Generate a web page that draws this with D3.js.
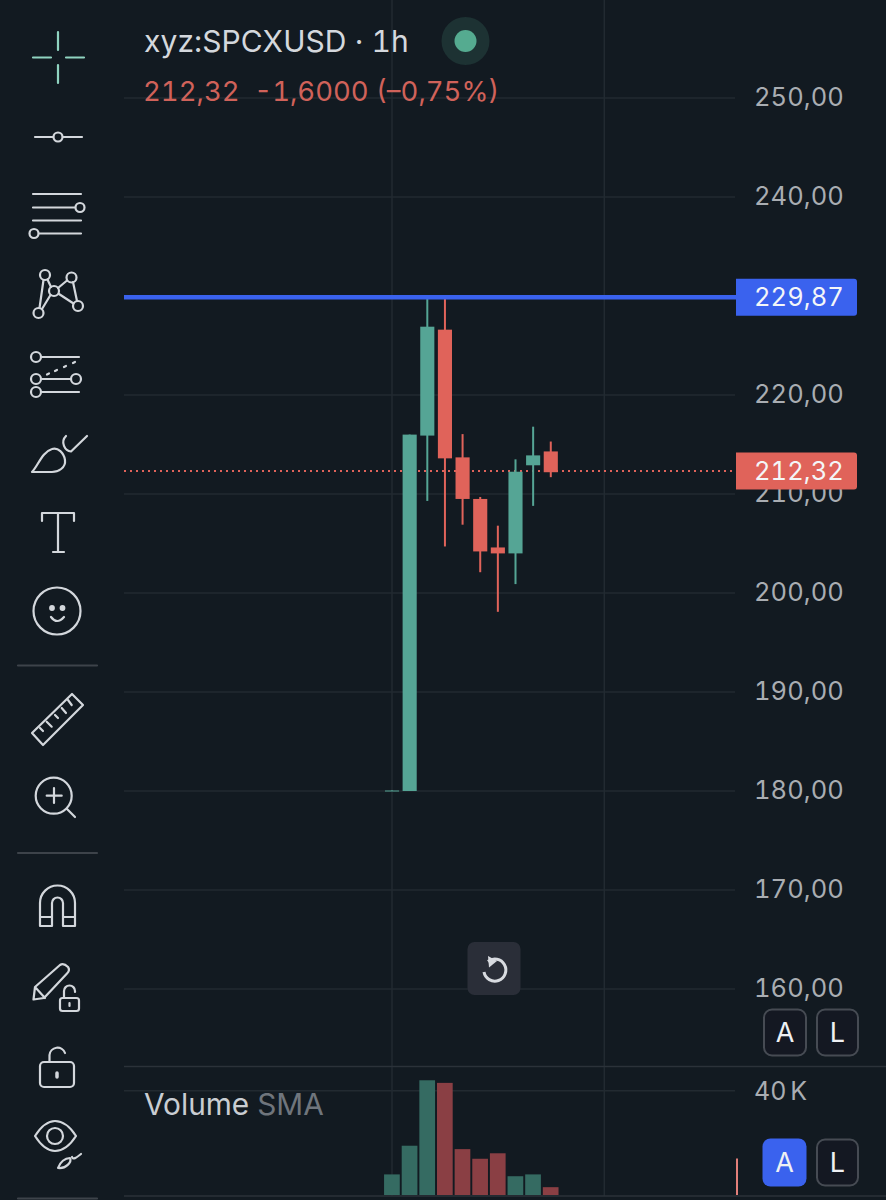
<!DOCTYPE html>
<html><head><meta charset="utf-8">
<script src="https://cdn.jsdelivr.net/npm/d3@7/dist/d3.min.js"></script>
<style>html,body{margin:0;padding:0;background:#121a21;overflow:hidden}svg{display:block}text{font-family:Inter,"Noto Sans",sans-serif;font-variant-numeric:tabular-nums;font-feature-settings:"tnum"}</style>
</head><body><svg id="c" width="886" height="1200"></svg>
<script>
// ---- data ----
const opens  = [180.0,180.0,215.9,226.6,213.7,209.5,204.6,204.0,212.9,214.3];
const closes = [180.05,216.0,226.9,213.6,209.5,204.2,204.0,212.25,213.9,212.2];
const highs  = [180.05,216.0,229.87,229.87,216.05,209.7,206.8,213.5,216.8,215.3];
const lows   = [180.0,180.0,209.3,204.7,206.9,202.1,198.1,200.9,208.8,211.7];
const volumes= [7900,18900,44000,43000,17600,13900,16000,7200,7900,3000];
const priceTicks=[160,170,180,190,200,210,220,230,240,250];
const priceLabels=[160,170,180,190,200,210,220,240,250];
const volumeTicks=[40000];
const lastPrice=212.32, alertPrice=229.87, lastVolumeMark=14000;
const titleText="xyz:SPCXUSD · 1h";
const quoteText="212,32  -1,6000 (–0,75%)";

const BG="#121a21",GRID="#222a31",UP="#55a595",DOWN="#e0635a",UPV="#356b62",DOWNV="#8a3f44",BLUE="#3a62ee",
      ICON="#d3d7dc",TXT="#a9adb2",DIV="#3d434a";
const comma=v=>d3.format(".2f")(v).replace(".",",");
const svg=d3.select("#c");
const y=d3.scaleLinear().domain([160,250]).range([989,98]);
const yv=d3.scaleLinear().domain([0,40000]).range([1195,1090.7]);
const x=d3.scaleBand().domain(d3.range(opens.length)).range([383.2,559.6]).paddingInner(0.2).paddingOuter(0.1);
const cx=i=>x(i)+x.bandwidth()/2;

// grid
const g=svg.append("g");
g.selectAll(".h").data(priceTicks).join("line").attr("x1",124).attr("x2",735).attr("y1",d=>y(d)).attr("y2",d=>y(d)).attr("stroke",GRID).attr("stroke-width",1.5);
g.selectAll(".hv").data(volumeTicks).join("line").attr("x1",124).attr("x2",735).attr("y1",d=>yv(d)).attr("y2",d=>yv(d)).attr("stroke",GRID).attr("stroke-width",1.5);
g.selectAll(".v").data([392,604.3]).join("line").attr("x1",d=>d).attr("x2",d=>d).attr("y1",0).attr("y2",1196).attr("stroke",GRID).attr("stroke-width",1.5);
g.append("line").attr("x1",124).attr("x2",886).attr("y1",1066.5).attr("y2",1066.5).attr("stroke","#2b3239").attr("stroke-width",1.5);
g.append("line").attr("x1",124).attr("x2",886).attr("y1",1196).attr("y2",1196).attr("stroke","#2b3239").attr("stroke-width",1.5);

// axis labels
const ax=d3.axisRight(y).tickValues(priceLabels).tickFormat(comma).tickSize(0).tickPadding(0);
const ag=svg.append("g").attr("transform","translate(844,0)").call(ax);
ag.select(".domain").remove();
ag.selectAll("text").attr("text-anchor","end").attr("fill",TXT).attr("font-size",25.5).attr("dy","0.29em").style("letter-spacing","0.1px");
const av=d3.axisRight(yv).tickValues(volumeTicks).tickFormat(d=>d/1000+" K").tickSize(0).tickPadding(0);
const avg=svg.append("g").attr("transform","translate(807,0)").call(av);
avg.select(".domain").remove();
avg.selectAll("text").attr("text-anchor","end").attr("fill",TXT).attr("font-size",25).attr("dy","0.34em").style("word-spacing","-3px");

// volume
svg.append("g").selectAll("rect").data(volumes).join("rect")
 .attr("x",(d,i)=>x(i)-0.9).attr("width",x.bandwidth()+1.6).attr("y",d=>yv(d)).attr("height",d=>yv(0)-yv(d))
 .attr("fill",(d,i)=>closes[i]>=opens[i]?UPV:DOWNV);
svg.append("rect").attr("x",736).attr("width",2).attr("y",yv(lastVolumeMark)).attr("height",yv(0)-yv(lastVolumeMark)).attr("fill","#e27f7a");

// last price dotted line
svg.append("line").attr("x1",124).attr("x2",736).attr("y1",y(lastPrice)).attr("y2",y(lastPrice)).attr("stroke","#e0635a").attr("stroke-width",2).attr("stroke-dasharray","2 4");

// candles
const cg=svg.append("g").selectAll("g").data(opens).join("g").attr("fill",(d,i)=>closes[i]>=opens[i]?UP:DOWN);
cg.append("rect").attr("x",(d,i)=>cx(i)-1).attr("width",2).attr("y",(d,i)=>y(highs[i])).attr("height",(d,i)=>y(lows[i])-y(highs[i]));
cg.append("rect").attr("x",(d,i)=>x(i)).attr("width",x.bandwidth())
  .attr("y",(d,i)=>y(Math.max(opens[i],closes[i]))).attr("height",(d,i)=>Math.max(1,Math.abs(y(opens[i])-y(closes[i]))));

// alert line
svg.append("line").attr("x1",124).attr("x2",737).attr("y1",y(alertPrice)).attr("y2",y(alertPrice)).attr("stroke",BLUE).attr("stroke-width",4.5);

// price tags
function tag(v,fill){
  const yy=y(v);
  svg.append("path").attr("d",`M736 ${yy-18.5}H854a3 3 0 0 1 3 3V${yy+15.5}a3 3 0 0 1 -3 3H736Z`).attr("fill",fill);
  svg.append("text").attr("x",844).attr("y",yy).attr("dy","0.35em").attr("text-anchor","end").attr("fill","#f4f6f8").attr("font-size",25.5).style("letter-spacing","0.1px").text(comma(v));
}
tag(alertPrice,BLUE);tag(lastPrice,DOWN);

// header
svg.append("text").attr("x",144).attr("y",51.5).attr("fill","#d4d8dd").attr("font-size",30).style("letter-spacing","0.08px").text(titleText);
svg.append("text").attr("x",143).attr("y",100.5).attr("fill","#d0625a").attr("font-size",27.5).style("white-space","pre").text(quoteText);
svg.append("circle").attr("cx",465.5).attr("cy",41).attr("r",24).attr("fill","#1d3233");
svg.append("circle").attr("cx",465.5).attr("cy",41).attr("r",11).attr("fill","#55ab90");

// volume label
const vl=svg.append("text").attr("x",144).attr("y",1115).attr("font-size",29.8);
vl.append("tspan").attr("fill","#c9cdd2").text("Volume ");
vl.append("tspan").attr("fill","#6f757c").text("SMA");

// reset button
svg.append("rect").attr("x",467.5).attr("y",942).attr("width",53).attr("height",53).attr("rx",7).attr("fill","#2a2e38");
svg.append("path").attr("d","M488 961.5 A11 11 0 1 1 484 972").attr("fill","none").attr("stroke","#d8dbe0").attr("stroke-width",3);
svg.append("path").attr("d","M488 956 L497 961 L489 967.5Z").attr("fill","#d8dbe0");

// A / L buttons
function btn(x0,y0,w,h,label,fill,stroke){
  svg.append("rect").attr("x",x0).attr("y",y0).attr("width",w).attr("height",h).attr("rx",8).attr("fill",fill).attr("stroke",stroke).attr("stroke-width",stroke==="none"?0:2);
  svg.append("text").attr("x",x0+w/2).attr("y",y0+h/2).attr("dy","0.36em").attr("text-anchor","middle").attr("fill","#eef0f3").attr("font-size",27).text(label);
}
btn(764,1009.5,42,46,"A","#141822","#464b53");btn(817,1009.5,41,46,"L","#141822","#464b53");
btn(762.5,1138.5,44,48,"A",BLUE,"none");btn(817,1139.5,41,46,"L","#141822","#464b53");

// toolbar
const ic=svg.append("g").attr("fill","none").attr("stroke",ICON).attr("stroke-width",2.2).attr("stroke-linecap","round").attr("stroke-linejoin","round");
const P=(d,o={})=>{const e=ic.append("path").attr("d",d);for(const k in o)e.attr(k,o[k]);return e;};
const C=(a,b,r)=>ic.append("circle").attr("cx",a).attr("cy",b).attr("r",r);
P("M58 32V50M58 65V83M33 57.5H51M66 57.5H84",{stroke:"#8fd3c0"});
P("M35 137H53M63 137H82");C(58,137,4.5);
P("M33 194H81M33 207.5H75M33 220.5H81M39 233.5H81");C(80,207.5,4.5);C(34,233.5,4.5);
P("M43.5 280L39.5 308M47.5 279.5L51 287M58 288L67 280.5M73 282L77 301M59 294L73.5 303.5M50.5 295L42 309");
C(45,275,5);C(71.5,277.5,5);C(54,291,5);C(78,306,5);C(38.5,313,5);
P("M41 357H79M41 379H71M41 392H79");C(36,357,5);C(36,379,5);C(76,379,5);C(36,392,5);
P("M47 374.5L49 373.5M55 371L57 370M64 367L66 366M73 363L75 362");
P("M32 472C38 466 42 452 52 449C58 447 64 453 65 460C66 468 58 472 52 472Z");
P("M66 436C60 442 65 451 71 451.5L87 436");
P("M42 521V513H74V521M58 513V552M53 552H64");
C(57,611,23.5);
ic.append("circle").attr("cx",52).attr("cy",608).attr("r",1.8).attr("fill",ICON);
ic.append("circle").attr("cx",62.5).attr("cy",608).attr("r",1.8).attr("fill",ICON);
P("M51 617Q57 625 64 617");
P("M18 665.5H97",{stroke:DIV});
P("M72 694L83 705L43 745L32 733Z");
P("M40 728L43 731M46.7 721.7L51.7 726.7M55 715L58 718M61.7 708L66 713M68 700L71.7 705");
C(53.7,795.7,18);P("M46.7 795.7H61.7M54 788V803M67 809L75 817");
P("M18 853H97",{stroke:DIV});
P("M40 926V903A17.5 17.5 0 0 1 75 903V926H63V903A5.5 5.5 0 0 0 52 903V926ZM40 917H52M63 917H75");
P("M33.5 999.5L35 987L60 965C63 963 66 965 68 967C69.5 969 69.5 971 67 973.5L44 998ZM35 987L45 998");
P("M64 998V991A5.5 5.5 0 0 1 75 991V992");
ic.append("rect").attr("x",60).attr("y",998).attr("width",19).attr("height",13).attr("rx",2.5);
P("M69.5 1003V1006");
ic.append("rect").attr("x",40).attr("y",1062).attr("width",34).attr("height",25).attr("rx",4);
P("M49.5 1062V1055A8 8 0 0 1 65 1053");
P("M57 1073V1077",{"stroke-width":3.5});
P("M35 1136C42 1125 48 1121 55 1121C62 1121 69 1125 76 1136C69 1147 62 1151 55 1151C48 1151 42 1147 35 1136Z");C(55,1136,8);
P("M58 1168C60 1162 65 1158 70 1158C72 1162 66 1169 58 1168ZM72 1157C73 1160 76 1158 81 1154");
P("M18 1198.5H97",{stroke:DIV});
</script></body></html>
